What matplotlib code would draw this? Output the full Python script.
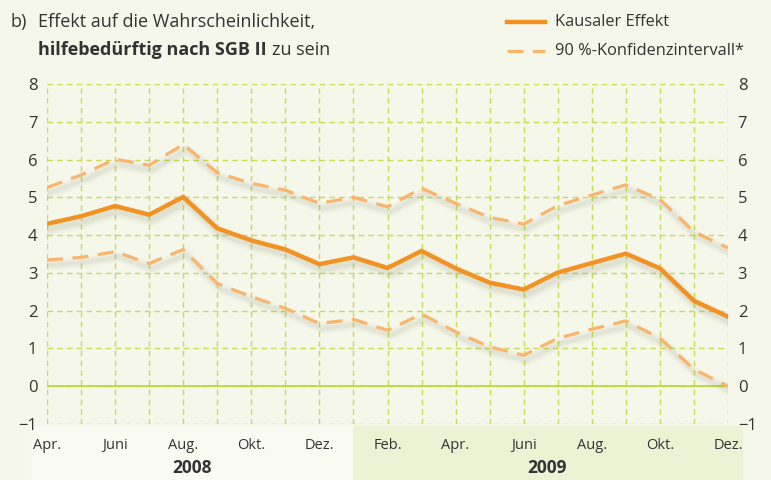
import numpy as np
import matplotlib
matplotlib.use('Agg')
import matplotlib.pyplot as plt
import matplotlib.transforms as mtransforms
from matplotlib.lines import Line2D
from matplotlib.patches import Rectangle

# data: April 2008 .. December 2009, monthly
month_labels = ['Apr.', '', 'Juni', '', 'Aug.', '', 'Okt.', '', 'Dez.', '',
                'Feb.', '', 'Apr.', '', 'Juni', '', 'Aug.', '', 'Okt.', '', 'Dez.']
effect = [4.30, 4.50, 4.77, 4.54, 5.01, 4.18, 3.86, 3.62, 3.23, 3.41, 3.13,
          3.58, 3.12, 2.74, 2.56, 3.01, 3.26, 3.51, 3.12, 2.26, 1.84]
ci_upper = [5.26, 5.59, 6.01, 5.85, 6.40, 5.65, 5.37, 5.19, 4.84, 5.00, 4.75,
            5.24, 4.84, 4.47, 4.29, 4.78, 5.06, 5.33, 4.94, 4.09, 3.66]
ci_lower = [3.34, 3.41, 3.56, 3.25, 3.62, 2.72, 2.37, 2.06, 1.66, 1.77, 1.48,
            1.91, 1.44, 1.04, 0.82, 1.27, 1.51, 1.73, 1.27, 0.45, 0.00]
years = ['2008', '2009']
legend_labels = ['Kausaler Effekt', '90 %-Konfidenzintervall*']

BG = '#f5f7ea'
GREEN = '#c8dd55'
ORANGE = '#f39224'
LIGHT_ORANGE = '#fbb46c'
TEXT = '#333333'
FONT = 'Open Sans'

plt.rcParams['font.family'] = FONT

fig = plt.figure(figsize=(7.71, 4.8), dpi=100, facecolor=BG)
ax = fig.add_axes([47/771, 1-424/480, (728-47)/771, (424-84)/480])
ax.set_facecolor(BG)

x = np.arange(len(effect))

# year bands below the plot
fig.patches.append(Rectangle((31/771, 0), (353-31)/771, 1-426/480,
                             transform=fig.transFigure, color='#f9fbf3', zorder=-1))
fig.patches.append(Rectangle((353/771, 0), (742-353)/771, 1-426/480,
                             transform=fig.transFigure, color='#ecf3d5', zorder=-1))
fig.text(192/771, 1-468/480, years[0], ha='center', va='center',
         fontsize=12.5, fontweight='bold', color=TEXT)
fig.text(547/771, 1-468/480, years[1], ha='center', va='center',
         fontsize=12.5, fontweight='bold', color=TEXT)

# grid
ax.set_xlim(0, len(effect)-1)
ax.set_ylim(-1, 8)
ax.set_xticks(x)
ax.set_xticklabels(month_labels)
ax.set_yticks(range(-1, 9))
ax.grid(True, color=GREEN, linestyle=(0, (4, 3)), linewidth=1)
ax.axhline(0, color='#bcd83a', linewidth=1.3, zorder=2)
for s in ax.spines.values():
    s.set_visible(False)
ax.tick_params(length=0, labelsize=12, colors=TEXT, labelright=True, pad=7)
ax.tick_params(axis='x', labelsize=10.5, pad=10)

# shadows
tr = mtransforms.offset_copy(ax.transData, fig=fig, x=3, y=-5, units='dots')
for w, a in [(10, 0.03), (7, 0.045), (4, 0.065)]:
    ax.plot(x, effect, color='#5a5a40', lw=w, alpha=a, transform=tr,
            solid_joinstyle='round', zorder=3)
    ax.plot(x, ci_upper, color='#5a5a40', lw=w*0.8, alpha=a*0.8, transform=tr,
            solid_joinstyle='round', zorder=3)
    ax.plot(x, ci_lower, color='#5a5a40', lw=w*0.8, alpha=a*0.8, transform=tr,
            solid_joinstyle='round', zorder=3)

ax.plot(x, ci_upper, color=LIGHT_ORANGE, lw=2.3, linestyle=(0, (5, 3)), zorder=4)
ax.plot(x, ci_lower, color=LIGHT_ORANGE, lw=2.3, linestyle=(0, (5, 3)), zorder=4)
ax.plot(x, effect, color=ORANGE, lw=3.2, solid_joinstyle='miter', zorder=5)

# title
fig.text(10/771, 1-22/480, 'b)', fontsize=13, color=TEXT, va='center')
fig.text(38/771, 1-22/480, 'Effekt auf die Wahrscheinlichkeit,', fontsize=13,
         color=TEXT, va='center')
t = fig.text(38/771, 1-50/480, 'hilfebedürftig nach SGB II', fontsize=13,
             color=TEXT, va='center', fontweight='bold')
fig.canvas.draw()
bb = t.get_window_extent()
fig.text((bb.x1 + 5)/771, 1-50/480, 'zu sein', fontsize=13, color=TEXT, va='center')

# legend, drawn by hand
styles = [dict(color=ORANGE, lw=3.2),
          dict(color=LIGHT_ORANGE, lw=2.3, linestyle=(0, (5, 3)))]
for ypx, lab, st in zip([22, 51], legend_labels, styles):
    yf = 1 - ypx/480
    fig.lines.append(Line2D([507/771, 545/771], [yf, yf],
                            transform=fig.transFigure, **st))
    fig.text(555/771, yf, lab, fontsize=11.8, color=TEXT, va='center')

fig.savefig('out.png', dpi=100, facecolor=BG)
